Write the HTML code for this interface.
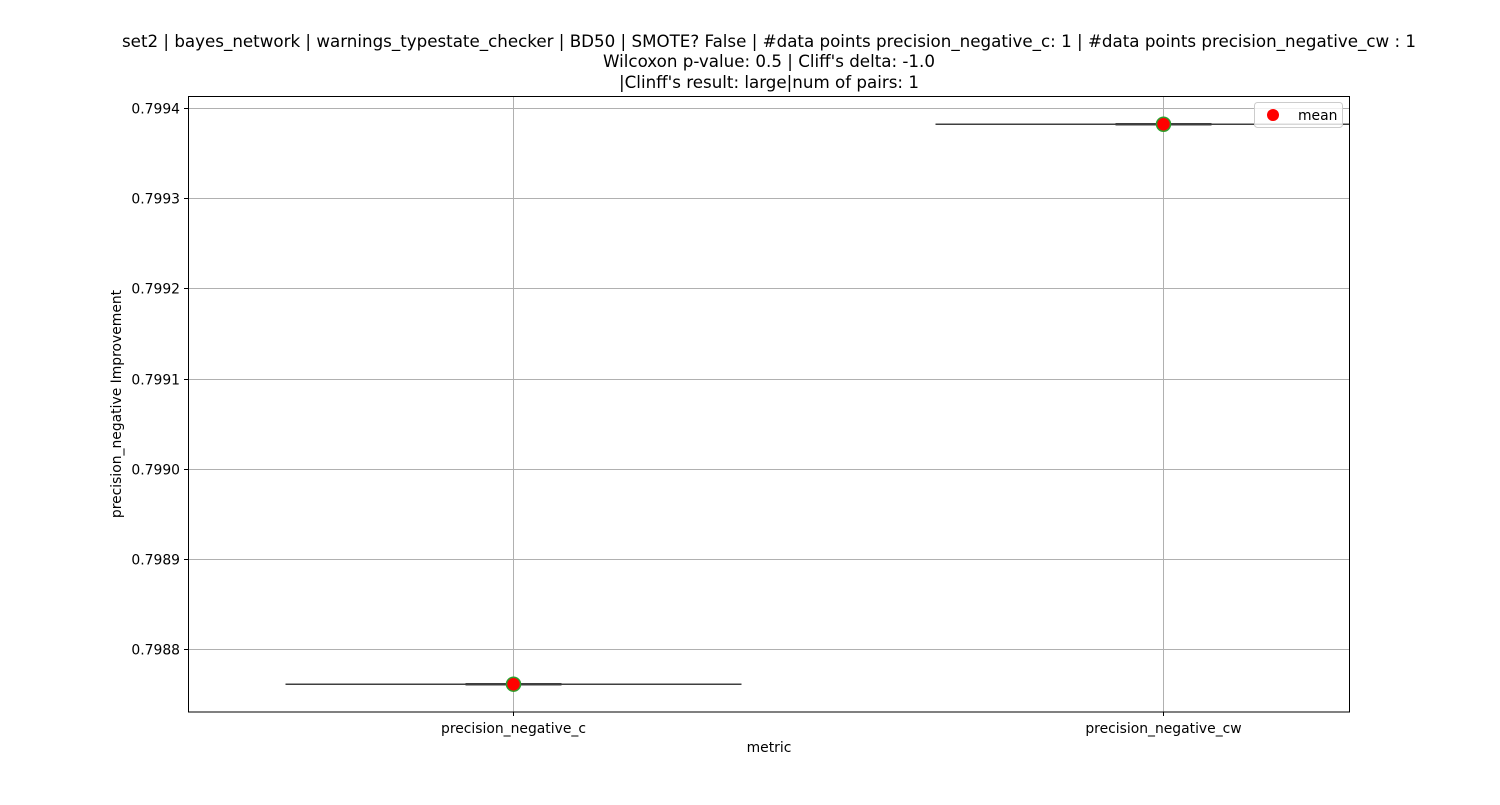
<!DOCTYPE html>
<html><head><meta charset="utf-8"><style>
body{margin:0;background:#fff;}
svg text{font-family:"DejaVu Sans","Liberation Sans",sans-serif;}
</style></head><body>
<svg id="chart" width="1500" height="800" xmlns="http://www.w3.org/2000/svg">
<rect width="1500" height="800" fill="#fff"/>
<g id="title" font-size="16.7" text-anchor="middle" fill="#000">
<text x="769" y="47">set2 | bayes_network | warnings_typestate_checker | BD50 | SMOTE? False | #data points precision_negative_c: 1 | #data points precision_negative_cw : 1</text>
<text x="769" y="67">Wilcoxon p-value: 0.5 | Cliff's delta: -1.0</text>
<text x="769" y="88">|Clinff's result: large|num of pairs: 1</text>
</g>
<g id="grid"></g>
<g id="marks"></g>
<rect x="188.5" y="96.5" width="1161" height="615.5" fill="none" stroke="#000" stroke-width="1"/>
<g id="ticks"></g>
<text x="769" y="752" font-size="13.9" text-anchor="middle">metric</text>
<text transform="translate(121,404) rotate(-90)" font-size="13.9" text-anchor="middle">precision_negative Improvement</text>
<g>
<rect x="1254.5" y="102.5" width="88" height="25" rx="3" fill="#fff" fill-opacity="0.8" stroke="#ccc"/>
<circle cx="1273" cy="115" r="6" fill="red"/>
<text x="1298" y="120" font-size="13.9">mean</text>
</g>
</svg>
<script>
const categories = ["precision_negative_c", "precision_negative_cw"];
const meanValues = [0.798761, 0.799382];
const medianValues = [0.798761, 0.799382];
const yTicks = [0.7988, 0.7989, 0.7990, 0.7991, 0.7992, 0.7993, 0.7994];
const yTickLabels = ["0.7988", "0.7989", "0.7990", "0.7991", "0.7992", "0.7993", "0.7994"];

const NS = "http://www.w3.org/2000/svg";
const L = 188, R = 1350, T = 96, B = 712;
const yMin = 0.79873016, yMax = 0.7994133;
function yS(v){ return B - (v - yMin) / (yMax - yMin) * (B - T); }
function xS(i){ return 513 + 650 * i; }
function mk(tag, attrs, parent){ const e = document.createElementNS(NS, tag); for (const k in attrs) e.setAttribute(k, attrs[k]); parent.appendChild(e); return e; }
const grid = document.getElementById('grid'), marks = document.getElementById('marks'), ticks = document.getElementById('ticks');
yTicks.forEach((v, i) => {
  const y = Math.round(yS(v)) + 0.5;
  const g = mk('line', {x1:L, x2:R, y1:y, y2:y, stroke:'#b0b0b0', 'stroke-width':1}, grid);
  
  
  const t = mk('line', {x1:L-4, x2:L, y1:y, y2:y, stroke:'#000'}, ticks);
  
  
  const tx = mk('text', {x:L-8, y:y+5, 'font-size':13.9, 'text-anchor':'end'}, ticks);
  tx.textContent = yTickLabels[i];
  
  
});
categories.forEach((c, i) => {
  const x = Math.round(xS(i)) + 0.5;
  const g = mk('line', {x1:x, x2:x, y1:T, y2:B, stroke:'#b0b0b0'}, grid);
  
  
  const t = mk('line', {x1:x, x2:x, y1:B, y2:B+4, stroke:'#000'}, ticks);
  
  
  const tx = mk('text', {x:x, y:B+21, 'font-size':13.9, 'text-anchor':'middle'}, ticks);
  tx.textContent = c;
  
  
  const y = yS(medianValues[i]);
  const clipR = Math.min(R, x + 228);
  const box = mk('line', {x1:x-228, x2:clipR, y1:y, y2:y, stroke:'#3f3f3f', 'stroke-width':1.5}, marks);
  
  
  const cap = mk('line', {x1:x-48, x2:x+48, y1:y, y2:y, stroke:'#3f3f3f', 'stroke-width':2.5}, marks);
  
  
  const m = mk('circle', {cx:x, cy:yS(meanValues[i]), r:7, fill:'red', stroke:'#2ca02c', 'stroke-width':1.5}, marks);
  
  
});
</script>
</body></html>
